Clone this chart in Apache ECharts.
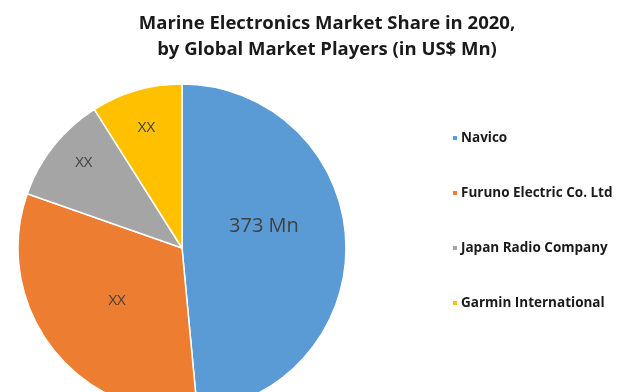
<!DOCTYPE html>
<html>
<head>
<meta charset="utf-8">
<script src="https://cdn.jsdelivr.net/npm/echarts@6/dist/echarts.min.js"></script>
<style>
  html, body { margin: 0; padding: 0; background: #fff; }
  #chart { width: 617px; height: 392px; }
</style>
</head>
<body>
<div id="chart"></div>
<script>
'use strict';

var players = ['Navico', 'Furuno Electric Co. Ltd', 'Japan Radio Company', 'Garmin International'];
var shares = [373, 245, 82, 69];
var sliceLabels = ['373 Mn', 'XX', 'XX', 'XX'];
var colors = ['#5B9BD5', '#ED7D31', '#A5A5A5', '#FFC000'];

var chartDom = document.getElementById('chart');
var myChart = echarts.init(chartDom, null, { renderer: 'canvas' });

var pieData = players.map(function (name, i) {
  return {
    name: name,
    value: shares[i],
    itemStyle: { color: colors[i] },
    label: {
      show: i < 2,
      formatter: sliceLabels[i],
      fontSize: i === 0 ? 20 : 15,
      offset: i === 0 ? [-3, -18] : [2, 0]
    }
  };
});

// label-only ring for the two small slices, placed further out like Excel does
var outerLabels = players.map(function (name, i) {
  return {
    name: name,
    value: shares[i],
    itemStyle: { color: 'rgba(0,0,0,0)' },
    label: {
      show: i >= 2,
      formatter: sliceLabels[i],
      offset: i === 2 ? [2, -6] : [0, 3]
    }
  };
});

var option = {
  backgroundColor: '#fff',
  title: {
    text: 'Marine Electronics Market Share in 2020,\nby Global Market Players (in US$ Mn)',
    left: 322,
    textAlign: 'center',
    top: 6,
    textStyle: {
      fontFamily: 'Open Sans',
      fontWeight: 'bold',
      fontSize: 18.5,
      lineHeight: 26,
      color: '#1a1a1a'
    }
  },
  legend: {
    orient: 'vertical',
    left: 446,
    top: 126,
    icon: 'rect',
    itemWidth: 6,
    itemHeight: 6,
    itemGap: 41,
    selectedMode: false,
    data: players,
    textStyle: {
      fontFamily: 'Open Sans',
      fontWeight: 'bold',
      fontSize: 13.5,
      color: '#1a1a1a',
      padding: [0, 0, 0, -2]
    }
  },
  series: [
    {
      type: 'pie',
      center: [182, 248],
      radius: [0, 164],
      startAngle: 90,
      clockwise: true,
      animation: false,
      silent: true,
      itemStyle: { borderColor: '#fff', borderWidth: 1.5 },
      label: {
        position: 'inside',
        color: '#404040',
        fontFamily: 'Open Sans'
      },
      labelLine: { show: false },
      data: pieData
    },
    {
      type: 'pie',
      center: [182, 248],
      radius: [0, 250],
      startAngle: 90,
      clockwise: true,
      animation: false,
      silent: true,
      z: 3,
      label: {
        position: 'inside',
        color: '#404040',
        fontFamily: 'Open Sans',
        fontSize: 15
      },
      labelLine: { show: false },
      data: outerLabels
    }
  ]
};

myChart.setOption(option);
</script>
</body>
</html>
